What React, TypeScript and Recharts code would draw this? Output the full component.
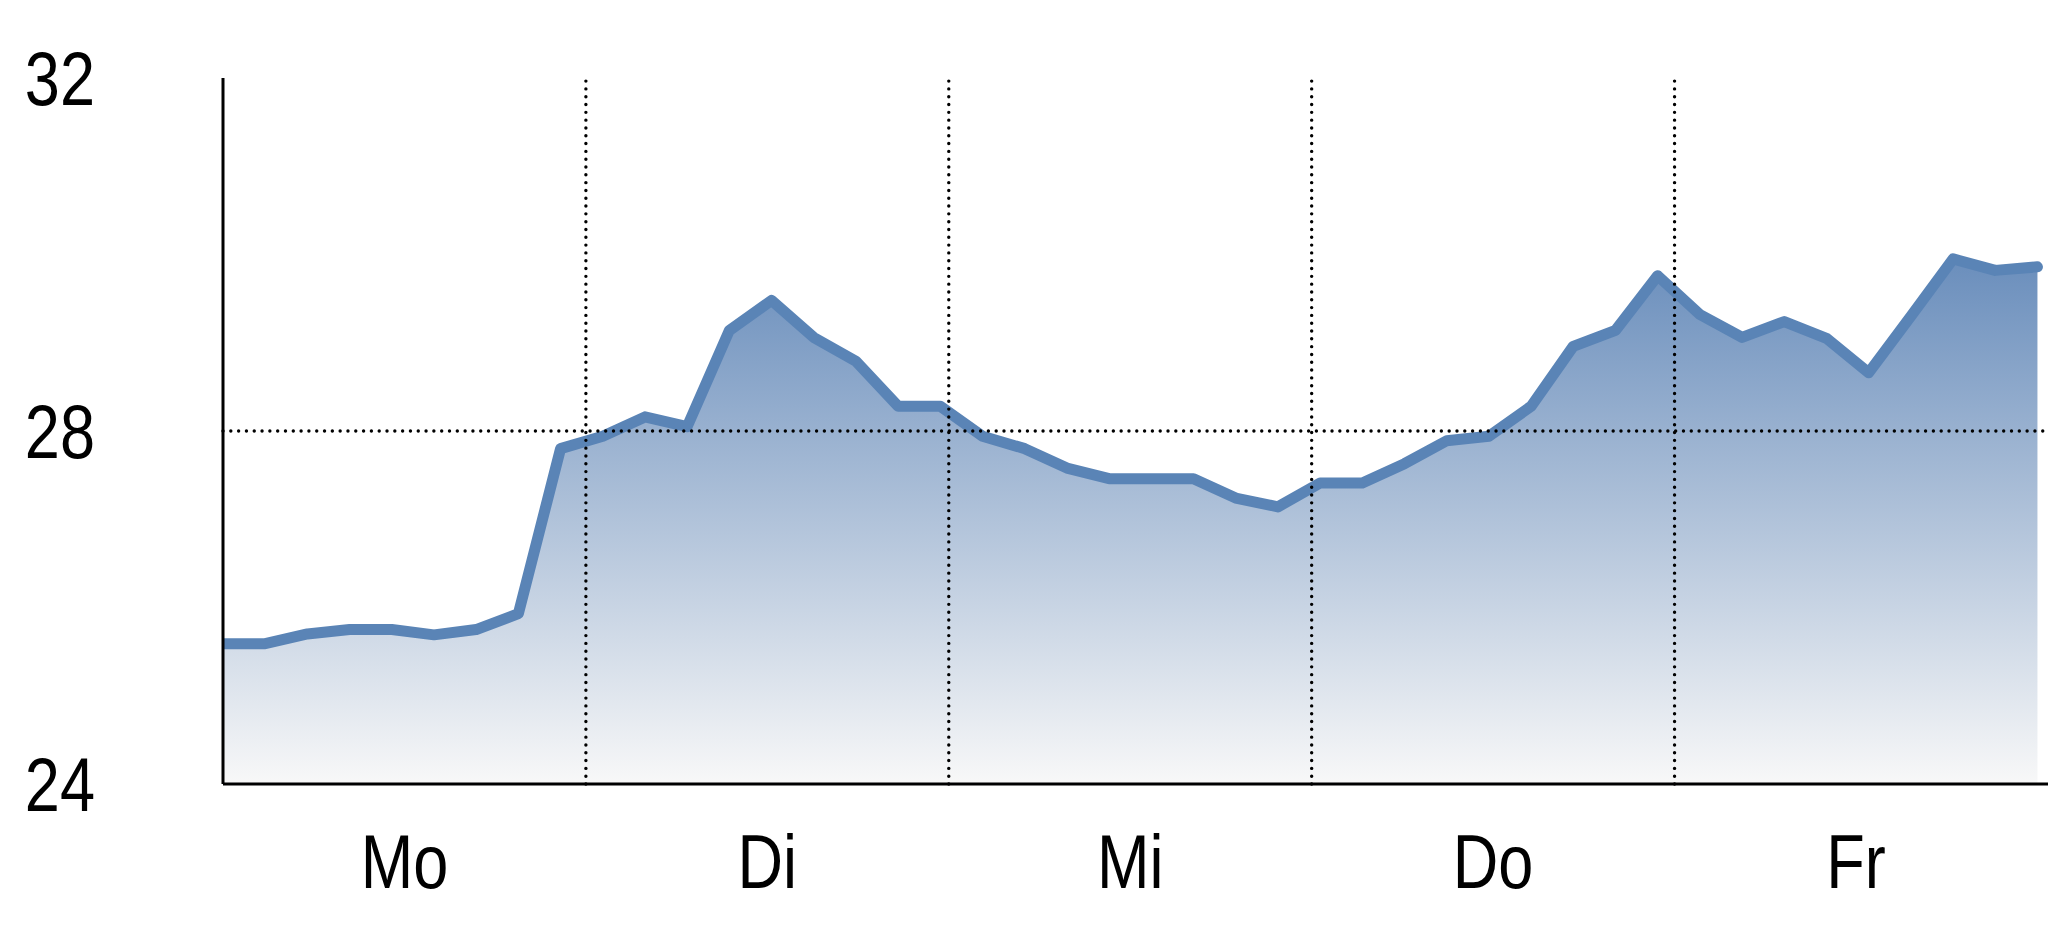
import React from "react";
import { AreaChart, Area, XAxis, YAxis, ReferenceLine } from "recharts";

// Wochentage (eine Spalte pro Tag)
const DAYS = ["Mo", "Di", "Mi", "Do", "Fr"];

// Messwerte, gleichmäßig über die Woche verteilt
const VALUES = [
  25.59, 25.59, 25.7, 25.75, 25.75, 25.69, 25.75, 25.93, 27.8,
  27.94, 28.16, 28.05, 29.14, 29.48, 29.06, 28.79, 28.28, 28.28,
  27.94, 27.8, 27.58, 27.46, 27.46, 27.46, 27.24, 27.14, 27.41,
  27.41, 27.63, 27.89, 27.94, 28.28, 28.96, 29.14, 29.76, 29.32,
  29.06, 29.24, 29.05, 28.66, 29.3, 29.95, 29.82, 29.86
];

const Y_TICKS = [24, 28, 32];
const Y_GRID = [28];

const data = VALUES.map((v, i) => ({ i, v }));
const span = VALUES.length - 1;
const dayWidth = span / DAYS.length;
const dayBounds = DAYS.slice(1).map((_, k) => (k + 1) * dayWidth);
const dayCenters = DAYS.map((_, k) => (k + 0.5) * dayWidth);

const FONT = "'Liberation Sans', Arial, sans-serif";
const SIZE = 76;
const SQUEEZE = 0.83; // schmale Schrift nachbilden
const gridStyle = {
  stroke: "#000",
  strokeWidth: 3.4,
  strokeDasharray: "0.01 7.8",
  strokeLinecap: "round" as const,
};

// schmale Achsenbeschriftung, x-Achse: y ist Oberkante der Schrift
const DayTick = (props: any) => {
  const { x, y, payload } = props;
  const label = DAYS[Math.round(payload.value / dayWidth - 0.5)];
  return (
    <text
      transform={`translate(${x},${y + 54}) scale(${SQUEEZE},1)`}
      textAnchor="middle"
      fontFamily={FONT}
      fontSize={SIZE}
      fill="#000"
    >
      {label}
    </text>
  );
};

// y-Achse: Text mittig auf den Wert
const ValueTick = (props: any) => {
  const { x, y, payload } = props;
  return (
    <text
      transform={`translate(${x},${y + 27}) scale(${SQUEEZE},1)`}
      textAnchor="end"
      fontFamily={FONT}
      fontSize={SIZE}
      fill="#000"
    >
      {payload.value}
    </text>
  );
};

export default function App() {
  return (
    <div style={{ position: "absolute", left: 0, top: 0, background: "#fff" }}>
      <AreaChart
        width={2048}
        height={937}
        data={data}
        margin={{ top: 78, right: 0, left: 0, bottom: 0 }}
      >
        <defs>
          <linearGradient id="fillGrad" x1="0" y1="0" x2="0" y2="1">
            <stop offset="0%" stopColor="#6a8ebc" />
            <stop offset="100%" stopColor="#f8f8f8" />
          </linearGradient>
        </defs>
        <XAxis
          type="number"
          dataKey="i"
          domain={[0, span + 0.25]}
          allowDataOverflow
          ticks={dayCenters}
          tickLine={false}
          tickSize={0}
          tickMargin={50}
          height={153}
          axisLine={{ stroke: "#000", strokeWidth: 3 }}
          tick={<DayTick />}
        />
        <YAxis
          type="number"
          domain={[24, 32]}
          ticks={Y_TICKS}
          width={223}
          tickLine={false}
          tickSize={0}
          tickMargin={128}
          axisLine={{ stroke: "#000", strokeWidth: 3 }}
          tick={<ValueTick />}
        />
        <Area
          type="linear"
          dataKey="v"
          stroke="#5a84b6"
          strokeWidth={11}
          strokeLinejoin="round"
          strokeLinecap="round"
          fill="url(#fillGrad)"
          fillOpacity={1}
          dot={false}
          activeDot={false}
          isAnimationActive={false}
        />
        {Y_GRID.map((y) => (
          <ReferenceLine key={`h-${y}`} y={y} {...gridStyle} />
        ))}
        {dayBounds.map((x) => (
          <ReferenceLine key={`v-${x}`} x={x} {...gridStyle} />
        ))}
      </AreaChart>
    </div>
  );
}
